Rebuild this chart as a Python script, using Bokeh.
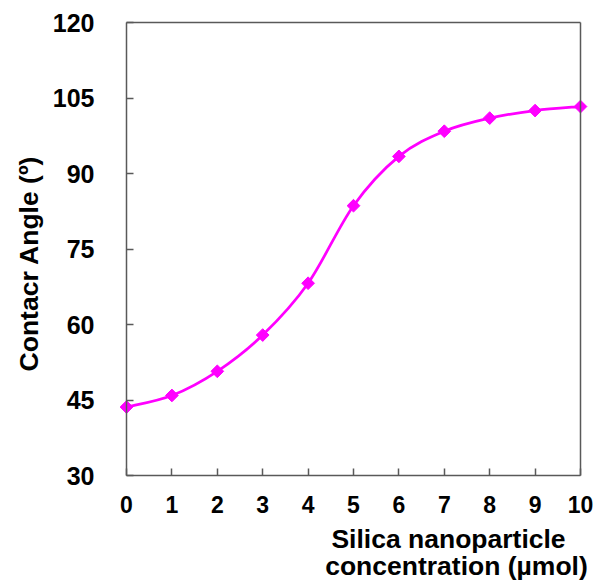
import math
from bokeh.plotting import figure
from bokeh.models import Range1d, FixedTicker, Label, ColumnDataSource, LinearAxis
from bokeh.embed import file_html
from bokeh.resources import INLINE

# ---- data ----
concentration = [0, 1, 2, 3, 4, 5, 6, 7, 8, 9, 10]
contact_angle = [43.6, 45.9, 50.7, 57.9, 68.2, 83.6, 93.4, 98.4, 101.0, 102.5, 103.3]
y_ticks = [30, 45, 60, 75, 90, 105, 120]
x_ticks = [0, 1, 2, 3, 4, 5, 6, 7, 8, 9, 10]
x_lo, x_hi = 0, 10
y_lo, y_hi = 30, 120

MAGENTA = "#FF00FF"
AXIS = "#595959"
FONT = "Liberation Sans"

# layout (pixels): axes box inside a full-canvas frame
W, H = 597, 584
BOX_L, BOX_R, BOX_T, BOX_B = 126, 580, 22, 475
sx = (BOX_R - BOX_L) / (x_hi - x_lo)
sy = (BOX_B - BOX_T) / (y_hi - y_lo)
xr = Range1d(x_lo - BOX_L / sx, x_hi + (W - BOX_R) / sx)
yr = Range1d(y_lo - (H - BOX_B) / sy, y_hi + BOX_T / sy)

p = figure(width=W, height=H, output_backend="svg", toolbar_location=None,
           x_range=xr, y_range=yr, x_axis_location=None, y_axis_location=None,
           min_border=0)
p.background_fill_color = "white"
p.border_fill_color = "white"
p.grid.visible = False
p.outline_line_color = None

# smoothed line (Bezier segments through the points, like a spreadsheet's smoothed line)
n = len(concentration)
x0, y0, x1, y1, cx0, cy0, cx1, cy1 = [], [], [], [], [], [], [], []
for i in range(n - 1):
    pm = max(i - 1, 0)
    pp = min(i + 2, n - 1)
    xa, ya = concentration[i], contact_angle[i]
    xb, yb = concentration[i + 1], contact_angle[i + 1]
    x0.append(xa); y0.append(ya); x1.append(xb); y1.append(yb)
    cx0.append(xa + (xb - concentration[pm]) / 6.0)
    cy0.append(ya + (yb - contact_angle[pm]) / 6.0)
    cx1.append(xb - (concentration[pp] - xa) / 6.0)
    cy1.append(yb - (contact_angle[pp] - ya) / 6.0)
seg = ColumnDataSource(dict(x0=x0, y0=y0, x1=x1, y1=y1, cx0=cx0, cy0=cy0, cx1=cx1, cy1=cy1))
p.bezier(x0="x0", y0="y0", x1="x1", y1="y1", cx0="cx0", cy0="cy0", cx1="cx1", cy1="cy1",
         source=seg, line_color=MAGENTA, line_width=2.75)

p.scatter(concentration, contact_angle, marker="square", angle=math.pi / 4, size=9,
          fill_color=MAGENTA, line_color=MAGENTA)


def style(ax, labels=True):
    ax.axis_line_color = AXIS
    ax.axis_line_width = 1.5
    ax.minor_tick_line_color = None
    if labels:
        ax.major_tick_line_color = AXIS
        ax.major_tick_line_width = 1.5
        ax.major_tick_in = 7
        ax.major_tick_out = 0
        ax.major_label_text_font = FONT
        ax.major_label_text_font_style = "bold"
        ax.major_label_text_color = "black"
    else:
        ax.major_tick_line_color = None
        ax.major_label_text_color = None


xb_ax = LinearAxis(fixed_location=y_lo, bounds=(x_lo, x_hi), ticker=FixedTicker(ticks=x_ticks))
yl_ax = LinearAxis(fixed_location=x_lo, bounds=(y_lo, y_hi), ticker=FixedTicker(ticks=y_ticks))
xt_ax = LinearAxis(fixed_location=y_hi, bounds=(x_lo, x_hi), ticker=FixedTicker(ticks=x_ticks))
yr_ax = LinearAxis(fixed_location=x_hi, bounds=(y_lo, y_hi), ticker=FixedTicker(ticks=y_ticks))
style(xb_ax); style(yl_ax); style(xt_ax, False); style(yr_ax, False)
xb_ax.major_label_text_font_size = "23px"
yl_ax.major_label_text_font_size = "25px"
xb_ax.major_label_standoff = 20
yl_ax.major_label_standoff = 32
p.add_layout(xb_ax, "below")
p.add_layout(yl_ax, "left")
p.add_layout(xt_ax, "above")
p.add_layout(yr_ax, "right")

# axis titles (screen units measured from the canvas' bottom-left)
p.add_layout(Label(x=28, y=H - 263, x_units="screen", y_units="screen",
                   text="Contacr Angle (º)", angle=math.pi / 2, text_align="center",
                   text_baseline="middle", text_font=FONT, text_font_style="bold",
                   text_font_size="26.5px", text_color="black"))
p.add_layout(Label(x=448, y=H - 538, x_units="screen", y_units="screen",
                   text="Silica nanoparticle", text_align="center",
                   text_baseline="alphabetic", text_font=FONT, text_font_style="bold",
                   text_font_size="26.5px", text_color="black"))
p.add_layout(Label(x=456, y=H - 565, x_units="screen", y_units="screen",
                   text="concentration (µmol)", text_align="center",
                   text_baseline="alphabetic", text_font=FONT, text_font_style="bold",
                   text_font_size="26.5px", text_color="black"))

open("out.html", "w").write(file_html(p, INLINE))
